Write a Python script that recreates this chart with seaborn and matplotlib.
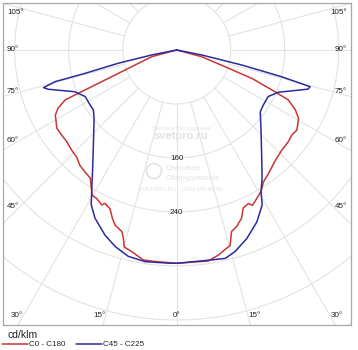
import numpy as np
import pandas as pd
import matplotlib
matplotlib.use("Agg")
import matplotlib.pyplot as plt
import seaborn as sns

# Luminous intensity (cd/klm) against gamma angle (degrees from nadir)
# C0 - C180 plane: C180 drawn on the left, C0 on the right
c180_gamma = [90, 75.0, 65.9, 63.8, 61.8, 56.9, 53.5, 50.2, 46.4, 43.1, 40.1,
              37.0, 34.0, 30.2, 28.3, 25.8, 25.1, 22.8, 20.9, 19.4, 16.8, 15.8,
              14.9, 12.6, 9.0, 5.9, 0]
c180_cd = [0, 38, 181, 196, 204, 212, 212, 212, 215, 217, 223,
           226, 229, 249, 250, 255, 251, 255, 267, 275, 281, 290,
           302, 306, 315, 315, 316]

c0_gamma = [0, 8.5, 11.5, 15.3, 16.8, 18.8, 21.1, 22.8, 25.0, 26.0, 28.3, 30.8,
            33.3, 36.6, 41.3, 46.4, 50.6, 53.5, 56.3, 60.7, 63.2, 65.9, 67.0,
            69.3, 70.9, 75.0, 90]
c0_cd = [316, 316, 310, 300, 281, 276, 267, 254, 251, 256, 250, 244,
         234, 228, 220, 215, 214, 212, 214, 207, 197, 181, 158,
         119, 76, 38, 0]

# C45 - C225 plane: C225 on the left, C45 on the right
c225_gamma = [90, 78.7, 77.2, 75.7, 75.4, 74.2, 73.0, 67.7, 63.0, 57.6, 54.3,
              50.3, 41.3, 34.7, 31.6, 28.9, 25.9, 21.2, 17.4, 13.2, 8.5, 2.3, 0]
c225_cd = [0, 38, 89, 140, 186, 205, 199, 163, 152, 152, 152,
           159, 187, 219, 240, 262, 277, 294, 305, 314, 317, 316, 316]

c45_gamma = [0, 8.6, 13.1, 16.1, 20.4, 25.0, 28.9, 30.8, 33.7, 39.0, 45.9,
             53.5, 57.6, 63.0, 67.4, 73.4, 74.6, 75.7, 77.0, 78.7, 90]
c45_cd = [316, 315, 317, 311, 298, 281, 262, 244, 228, 200, 174,
          154, 152, 152, 163, 203, 205, 160, 99, 38, 0]

series_names = ["C0 - C180", "C45 - C225"]
series_colors = ["#cc3333", "#2b2b9c"]

ring_values = [80, 160, 240, 320, 400, 480, 560]
ring_labels = [160, 240]
side_angles = [105, 90, 75, 60, 45]
bottom_angles = [30, 15, 0]


def to_xy(gamma, cd, side):
    g = np.radians(np.asarray(gamma, dtype=float))
    r = np.asarray(cd, dtype=float)
    return side * r * np.sin(g), -r * np.cos(g)


frames = []
for name, (lg, lc, rg, rc) in zip(series_names, [
        (c180_gamma, c180_cd, c0_gamma, c0_cd),
        (c225_gamma, c225_cd, c45_gamma, c45_cd)]):
    xl, yl = to_xy(lg, lc, -1)
    xr, yr = to_xy(rg, rc, 1)
    x = np.concatenate([xl, xr])
    y = np.concatenate([yl, yr])
    frames.append(pd.DataFrame({"x": x, "y": y, "series": name,
                                "step": np.arange(len(x))}))
df = pd.concat(frames, ignore_index=True)

sns.set_style("white")
plt.rcParams["font.family"] = ["Liberation Sans", "DejaVu Sans"]

W, H = 358, 350
fig = plt.figure(figsize=(W / 100, H / 100), dpi=100)
ax = fig.add_axes([3 / W, 25 / H, 348 / W, 322 / H])

# frame in cd units (0.675 px per cd, lamp at the origin)
XMIN, XMAX, YMIN, YMAX = -257.3, 258.2, -407.4, 69.6
ax.set_xlim(XMIN, XMAX)
ax.set_ylim(YMIN, YMAX)

grid_col = "#e3e3e3"
t = np.linspace(0, 2 * np.pi, 721)
for rv in ring_values:
    ax.plot(rv * np.cos(t), rv * np.sin(t), color=grid_col, lw=0.8, zorder=1)
for a in range(0, 360, 15):
    ar = np.radians(a)
    ax.plot([80 * np.sin(ar), 700 * np.sin(ar)],
            [-80 * np.cos(ar), -700 * np.cos(ar)],
            color=grid_col, lw=0.8, zorder=1)


# faint watermark
def px(xp, yp):
    return (xp - 176.7) / 0.675, -(yp - 50) / 0.675


wm = "#e2e2e2"
ax.text(*px(181, 129), "Световое Оборудование", fontsize=3.6, color=wm,
        ha="center", va="center", zorder=1)
ax.text(*px(181, 136), "svetpro.ru", fontsize=8, fontweight="bold", color=wm,
        ha="center", va="center", zorder=1)
ax.add_patch(plt.Circle(px(154, 171), 7.5 / 0.675, fill=False, ec=wm, lw=1.2,
                        zorder=1))
ax.text(*px(166, 169), "Световое", fontsize=5.8, color=wm, ha="left",
        va="center", zorder=1)
ax.text(*px(166, 178.5), "Оборудование", fontsize=5.8, color=wm, ha="left",
        va="center", zorder=1)
ax.text(*px(180, 189.5), "SVETPRO.RU   (495) 649 86 96", fontsize=4.2,
        color=wm, ha="center", va="center", zorder=1)

sns.lineplot(data=df, x="x", y="y", hue="series", hue_order=series_names,
             palette=dict(zip(series_names, series_colors)), sort=False,
             estimator=None, units="series", lw=1.1, ax=ax, zorder=3,
             legend=True)

txt = "#222222"
fs = 5.8
for rv in ring_labels:
    ax.text(0, -(rv + 1), str(rv), fontsize=fs, color=txt, ha="center",
            va="center", zorder=4)

xl_in = -251.4
for a in side_angles:
    ar = np.radians(a)
    yv = min(-232 * np.cos(ar) / np.sin(ar), 54.8)
    ax.text(xl_in, yv, f"{a}°", fontsize=fs, color=txt, ha="left", va="center")
    ax.text(-xl_in + 0.5, yv, f"{a}°", fontsize=fs, color=txt, ha="right",
            va="center")
yb = -394
for a in bottom_angles:
    xv = -yb * np.tan(np.radians(a))
    if a == 0:
        ax.text(0, yb, f"{a}°", fontsize=fs, color=txt, ha="center", va="center")
    else:
        ax.text(-xv, yb, f"{a}°", fontsize=fs, color=txt, ha="right", va="center")
        ax.text(xv, yb, f"{a}°", fontsize=fs, color=txt, ha="left", va="center")

ax.set_xticks([])
ax.set_yticks([])
ax.set_xlabel("")
ax.set_ylabel("")
for sp in ax.spines.values():
    sp.set_visible(True)
    sp.set_color("#a8a8a8")
    sp.set_linewidth(0.9)

handles, labels = ax.get_legend_handles_labels()
ax.legend_.remove()
fig.legend(handles, labels, loc="center left", bbox_to_anchor=(2 / W, 5.5 / H),
           ncol=2, frameon=False, fontsize=fs, handlelength=3.2,
           handletextpad=0.15, columnspacing=1.3, borderpad=0,
           borderaxespad=0, labelcolor=txt)
fig.text(7 / W, 1 - 335 / H, "cd/klm", fontsize=7.5, color=txt, ha="left",
         va="center")

fig.savefig("out.png", dpi=100, facecolor="white")
